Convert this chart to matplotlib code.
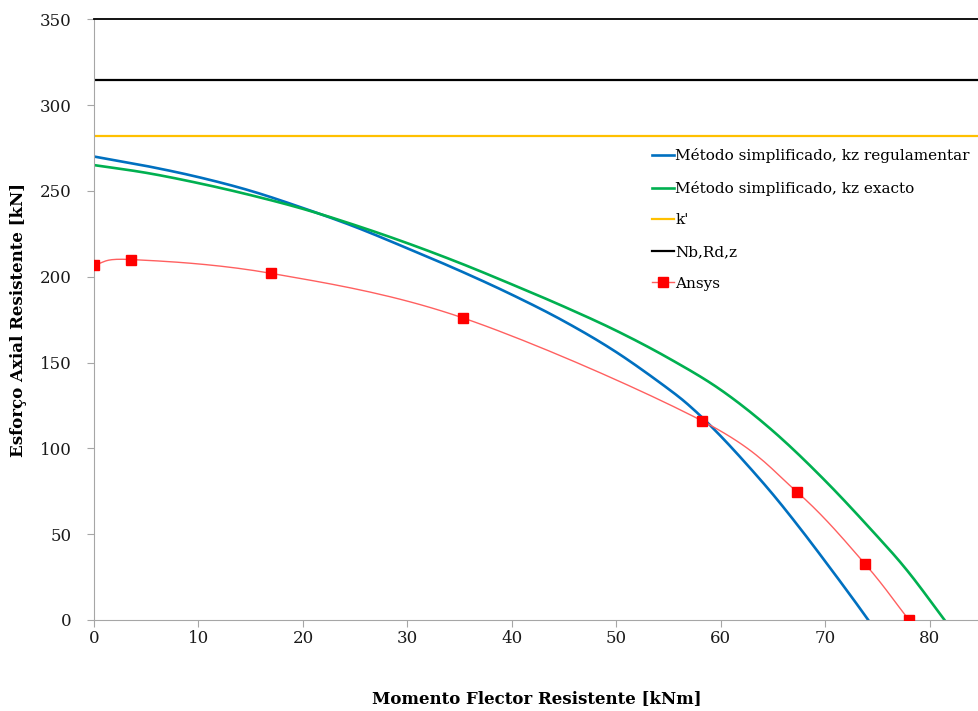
import numpy as np
import matplotlib
matplotlib.use("Agg")
import matplotlib.pyplot as plt

# curves: moment [kNm] vs axial force [kN]
m_reg = [0, 5, 10, 15, 20, 25, 30, 35, 40, 45, 50, 55, 57.5, 60, 62.5, 65, 67.5, 70, 72.5, 74.1]
n_reg = [270, 264.5, 258, 250, 240, 229, 216.5, 203.5, 189.5, 174, 156, 134.5, 122, 107, 90.5, 73, 54, 34, 13.5, 0]

m_exa = [0, 5, 10, 15, 20, 25, 30, 35, 40, 45, 50, 55, 60, 65, 70, 75, 78, 81.4]
n_exa = [265, 260.5, 254.5, 247.5, 239.5, 230, 219.5, 208, 195.5, 182.5, 168.5, 152.5, 134, 110, 81, 48.5, 27.5, 0]

k_prime = 281.7
nb_rd_z = 314.3

m_ansys = [0, 3.5, 16.9, 35.3, 58.2, 67.3, 73.8, 78.0]
n_ansys = [207, 210, 202, 176, 116, 74.5, 32.6, 0]


def smooth(x, y, n=20):
    # catmull-rom through the points, like excel's smoothed line
    p = np.column_stack([x, y]).astype(float)
    p = np.vstack([2 * p[0] - p[1], p, 2 * p[-1] - p[-2]])
    out = []
    t = np.linspace(0, 1, n, endpoint=False)[:, None]
    for i in range(1, len(p) - 2):
        p0, p1, p2, p3 = p[i - 1], p[i], p[i + 1], p[i + 2]
        seg = 0.5 * ((2 * p1) + (-p0 + p2) * t + (2 * p0 - 5 * p1 + 4 * p2 - p3) * t ** 2
                     + (-p0 + 3 * p1 - 3 * p2 + p3) * t ** 3)
        out.append(seg)
    out.append(p[-2][None, :])
    out = np.vstack(out)
    return out[:, 0], out[:, 1]


plt.rcParams['font.family'] = ['DejaVu Serif']

fig = plt.figure(figsize=(9.79, 7.11), dpi=100)
ax = fig.add_axes([0.096, 0.128, 0.904, 0.845])

xs, ys = smooth(m_reg, n_reg)
ax.plot(xs, ys, color='#0070C0', lw=1.9, label='Método simplificado, kz regulamentar')
xs, ys = smooth(m_exa, n_exa)
ax.plot(xs, ys, color='#00B050', lw=1.9, label='Método simplificado, kz exacto')
ax.axhline(k_prime, color='#FFC000', lw=1.6, label="k'")
ax.axhline(nb_rd_z, color='black', lw=1.6, label='Nb,Rd,z')

xs, ys = smooth(m_ansys, n_ansys)
ax.plot(xs, ys, color='#ff6060', lw=1.0, zorder=3)
ax.plot(m_ansys, n_ansys, ls='none', marker='s', ms=6.5, color='red', zorder=4)
# legend proxy for the Ansys series
ax.plot([], [], color='#ff6060', lw=1.0, marker='s', ms=6.5, mfc='red', mec='red', label='Ansys')

ax.set_xlim(0, 84.7)
ax.set_ylim(0, 350)
ax.set_xticks(np.arange(0, 81, 10))
ax.set_yticks(np.arange(0, 351, 50))

for s in ['left', 'bottom']:
    ax.spines[s].set_color('#a6a6a6')
ax.spines['top'].set_color('black')
ax.spines['top'].set_linewidth(1.3)
ax.spines['right'].set_visible(False)
ax.tick_params(axis='both', colors='#a6a6a6', labelcolor='#1a1a1a', labelsize=12, length=5, direction='out')
ax.tick_params(axis='x', pad=2)
ax.tick_params(axis='y', pad=11)

ax.set_xlabel('Momento Flector Resistente [kNm]', fontsize=12, fontweight='bold', labelpad=31)
ax.set_ylabel('Esforço Axial Resistente [kN]', fontsize=12, fontweight='bold', labelpad=9)

leg = ax.legend(loc='upper left', bbox_to_anchor=(0.66, 0.80), bbox_transform=fig.transFigure,
                frameon=False, fontsize=11, handlelength=1.4, handletextpad=0.1,
                labelspacing=1.15, borderaxespad=0)

fig.savefig('out.png', dpi=100)
